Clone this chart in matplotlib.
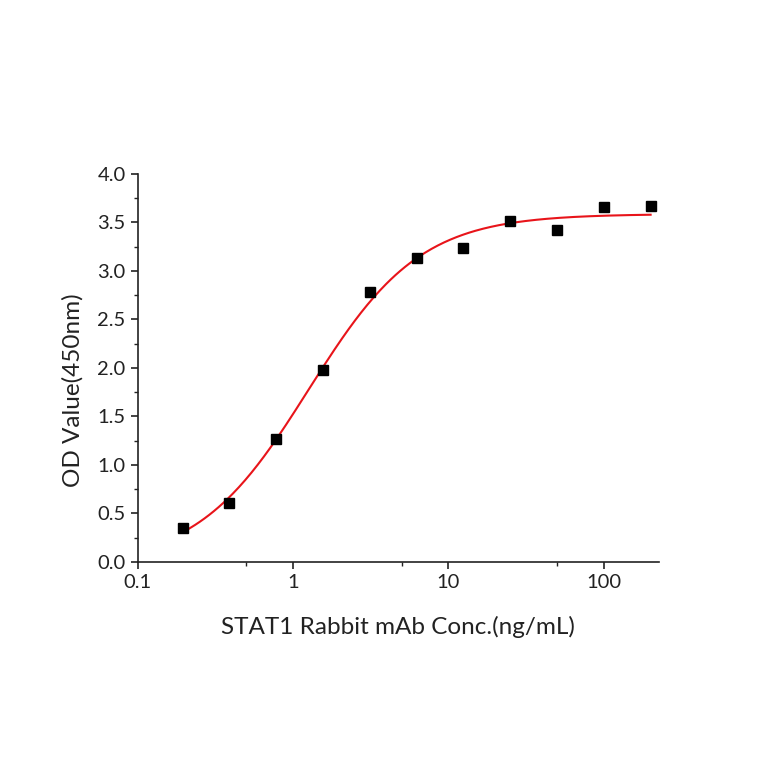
import numpy as np
import matplotlib
matplotlib.use("Agg")
import matplotlib.pyplot as plt
from matplotlib.ticker import FixedLocator, FixedFormatter, MultipleLocator

conc = [0.195, 0.39, 0.78, 1.56, 3.125, 6.25, 12.5, 25, 50, 100, 200]
od = [0.35, 0.61, 1.27, 1.98, 2.78, 3.13, 3.24, 3.51, 3.42, 3.66, 3.67]
x_ticks = [0.1, 1, 10, 100]
x_ticklabels = ["0.1", "1", "10", "100"]

# 4-parameter logistic fit (least squares): grid over EC50 / Hill, linear solve for bottom/top
x = np.array(conc)
y = np.array(od)
best = None
for ec50 in np.logspace(-0.5, 1.0, 301):
    for hill in np.linspace(0.5, 3.0, 251):
        f = 1.0 / (1.0 + (ec50 / x) ** hill)
        A = np.column_stack([1 - f, f])
        coef, *_ = np.linalg.lstsq(A, y, rcond=None)
        r = np.sum((A @ coef - y) ** 2)
        if best is None or r < best[0]:
            best = (r, ec50, hill, coef)
_, ec50, hill, (bottom, top) = best
xf = np.logspace(np.log10(x.min()), np.log10(x.max()), 300)
yf = bottom + (top - bottom) / (1.0 + (ec50 / xf) ** hill)

plt.rcParams['font.family'] = ['Lato', 'DejaVu Sans']
fig = plt.figure(figsize=(7.64, 7.64), dpi=100)
ax = fig.add_axes([0.180, 0.2644, 0.682, 0.508])
ax.plot(xf, yf, color='#e8141a', lw=1.5, zorder=2)
ax.plot(conc, od, 's', color='black', ms=6.5, zorder=3)
ax.set_xscale('log')
ax.set_xlim(0.1, 225)
ax.set_ylim(0, 4.0)
ax.xaxis.set_major_locator(FixedLocator(x_ticks))
ax.xaxis.set_major_formatter(FixedFormatter(x_ticklabels))
ax.xaxis.set_minor_locator(FixedLocator([0.5, 5, 50]))
ax.yaxis.set_major_locator(MultipleLocator(0.5))
ax.yaxis.set_minor_locator(MultipleLocator(0.25))
ax.yaxis.set_major_formatter(matplotlib.ticker.FormatStrFormatter('%.1f'))
for s in ['top', 'right']:
    ax.spines[s].set_visible(False)
for s in ['left', 'bottom']:
    ax.spines[s].set_color('#222222')
    ax.spines[s].set_linewidth(1.2)
ax.tick_params(which='major', direction='out', length=5, width=1.2, labelsize=14.5, colors='#222222')
ax.tick_params(which='minor', direction='out', length=3, width=1.0, colors='#222222')
ax.set_xlabel('STAT1 Rabbit mAb Conc.(ng/mL)', fontsize=17.5, labelpad=18, color='#222222')
ax.set_ylabel('OD Value(450nm)', fontsize=17.5, labelpad=10, color='#222222')
ax.yaxis.label.set_y(0.443)
fig.savefig('out.png', dpi=100)
